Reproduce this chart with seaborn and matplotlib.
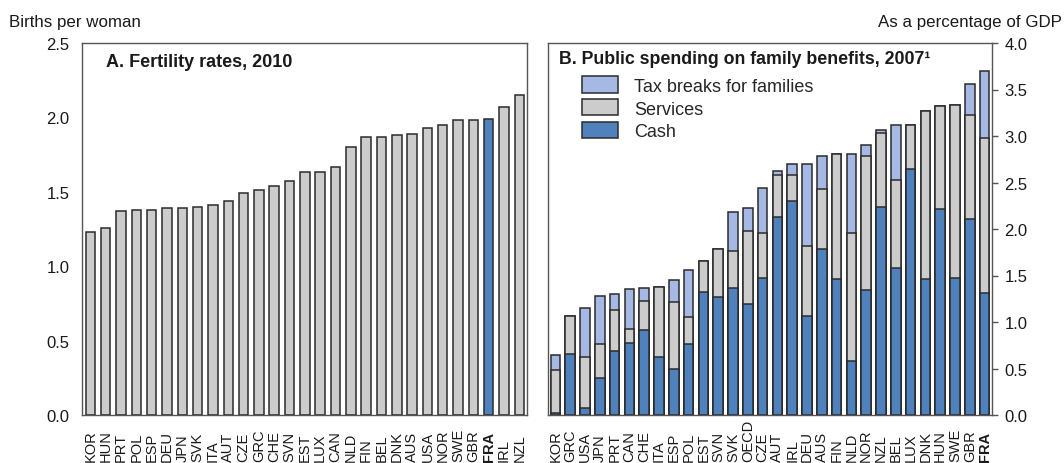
import matplotlib
matplotlib.use("Agg")
import matplotlib.pyplot as plt
import seaborn as sns
from matplotlib.patches import Patch

sns.set_theme(style="white")
plt.rcParams['font.family'] = ['Liberation Sans', 'DejaVu Sans']

# Panel A: total fertility rate, 2010
fert_countries = ["KOR", "HUN", "PRT", "POL", "ESP", "DEU", "JPN", "SVK", "ITA", "AUT",
                  "CZE", "GRC", "CHE", "SVN", "EST", "LUX", "CAN", "NLD", "FIN", "BEL",
                  "DNK", "AUS", "USA", "NOR", "SWE", "GBR", "FRA", "IRL", "NZL"]
fert_values = [1.23, 1.26, 1.37, 1.38, 1.38, 1.39, 1.39, 1.40, 1.41, 1.44,
               1.49, 1.51, 1.54, 1.57, 1.63, 1.63, 1.67, 1.80, 1.87, 1.87,
               1.88, 1.89, 1.93, 1.95, 1.98, 1.98, 1.99, 2.07, 2.15]

# Panel B: public spending on family benefits, 2007 (% of GDP)
spend_countries = ["KOR", "GRC", "USA", "JPN", "PRT", "CAN", "CHE", "ITA", "ESP", "POL",
                   "EST", "SVN", "SVK", "OECD", "CZE", "AUT", "IRL", "DEU", "AUS", "FIN",
                   "NLD", "NOR", "NZL", "BEL", "LUX", "DNK", "HUN", "SWE", "GBR", "FRA"]
cash = [0.02, 0.66, 0.07, 0.40, 0.69, 0.77, 0.91, 0.62, 0.49, 0.76,
        1.32, 1.27, 1.37, 1.19, 1.47, 2.13, 2.30, 1.06, 1.78, 1.46,
        0.58, 1.34, 2.24, 1.58, 2.64, 1.46, 2.22, 1.47, 2.11, 1.31]
services = [0.46, 0.40, 0.55, 0.36, 0.44, 0.16, 0.32, 0.76, 0.72, 0.29,
            0.34, 0.51, 0.39, 0.79, 0.49, 0.45, 0.28, 0.76, 0.65, 1.35,
            1.38, 1.45, 0.79, 0.95, 0.48, 1.81, 1.10, 1.86, 1.12, 1.67]
tax_breaks = [0.17, 0.00, 0.53, 0.52, 0.17, 0.43, 0.14, 0.00, 0.24, 0.51,
              0.00, 0.00, 0.42, 0.25, 0.48, 0.04, 0.12, 0.88, 0.36, 0.00,
              0.85, 0.11, 0.03, 0.59, 0.00, 0.00, 0.00, 0.00, 0.33, 0.72]

GREY = "#CCCCCC"
BLUE = "#4F81BD"
LIGHT = "#A6B8E4"
EDGE = "#2b2b2b"
SPINE = "#555555"
TXT = "#1a1a1a"

W, H = 1064, 464
fig = plt.figure(figsize=(W / 100, H / 100), dpi=100)
axA = fig.add_axes([82 / W, 1 - 416 / H, 445 / W, 372 / H])
axB = fig.add_axes([548 / W, 1 - 416 / H, 444 / W, 372 / H])

# ---- Panel A
palA = {c: (BLUE if c == "FRA" else GREY) for c in fert_countries}
sns.barplot(x=fert_countries, y=fert_values, hue=fert_countries, palette=palA,
            order=fert_countries, legend=False, width=0.62, saturation=1,
            edgecolor=EDGE, linewidth=1.1, ax=axA)
axA.set_ylim(0, 2.5)
axA.set_yticks([0.0, 0.5, 1.0, 1.5, 2.0, 2.5])
axA.set_yticklabels([f"{v:.1f}" for v in axA.get_yticks()])
axA.set_xlim(-0.55, len(fert_countries) - 0.5)
axA.text(0.055, 0.950, "A. Fertility rates, 2010", transform=axA.transAxes,
         fontsize=13, fontweight="bold", color=TXT, va="center", ha="left")

# ---- Panel B: stacked bars drawn as cumulative layers
tot_cs = [c + s for c, s in zip(cash, services)]
tot_all = [c + s + t for c, s, t in zip(cash, services, tax_breaks)]
for vals, col in [(tot_all, LIGHT), (tot_cs, GREY), (cash, BLUE)]:
    sns.barplot(x=spend_countries, y=vals, order=spend_countries, color=col,
                width=0.64, saturation=1, edgecolor=EDGE, linewidth=1.1, ax=axB)
axB.set_ylim(0, 4.0)
axB.set_xlim(-0.5, len(spend_countries) - 0.5)
axB.yaxis.tick_right()
axB.set_yticks([0.0, 0.5, 1.0, 1.5, 2.0, 2.5, 3.0, 3.5, 4.0])
axB.set_yticklabels([f"{v:.1f}" for v in axB.get_yticks()])
axB.text(0.024, 0.958, "B. Public spending on family benefits, 2007\u00b9",
         transform=axB.transAxes, fontsize=12.8, fontweight="bold", color=TXT,
         va="center", ha="left")

handles = [Patch(facecolor=LIGHT, edgecolor=EDGE, linewidth=1.1, label="Tax breaks for families"),
           Patch(facecolor=GREY, edgecolor=EDGE, linewidth=1.1, label="Services"),
           Patch(facecolor=BLUE, edgecolor=EDGE, linewidth=1.1, label="Cash")]
axB.legend(handles=handles, loc="upper left", bbox_to_anchor=(0.0766, 0.91),
           frameon=False, fontsize=13, handlelength=2.0, handleheight=1.0,
           labelspacing=0.25, handletextpad=0.9, borderaxespad=0, borderpad=0)

# ---- common styling
for ax in (axA, axB):
    ax.set_xlabel("")
    ax.set_ylabel("")
    for sp in ax.spines.values():
        sp.set_visible(True)
        sp.set_color(SPINE)
        sp.set_linewidth(1.0)
    ax.tick_params(axis="y", which="major", length=4, width=1, color=SPINE,
                   labelsize=12, labelcolor=TXT, pad=5)
    # country codes read upward from a common baseline below the axis
    ax.tick_params(axis="x", length=0, labelsize=10.5, labelcolor=TXT, pad=33)
    for lab in ax.get_xticklabels():
        lab.set_rotation(90)
        lab.set_rotation_mode("anchor")
        lab.set_ha("left")
        lab.set_va("center")
        if lab.get_text() == "FRA":
            lab.set_fontweight("bold")

fig.text(9 / W, 1 - 27 / H, "Births per woman", fontsize=12.2, color=TXT,
         ha="left", va="baseline")
fig.text(1062 / W, 1 - 27 / H, "As a percentage of GDP", fontsize=12.2, color=TXT,
         ha="right", va="baseline")

fig.savefig("out.png", dpi=100)
